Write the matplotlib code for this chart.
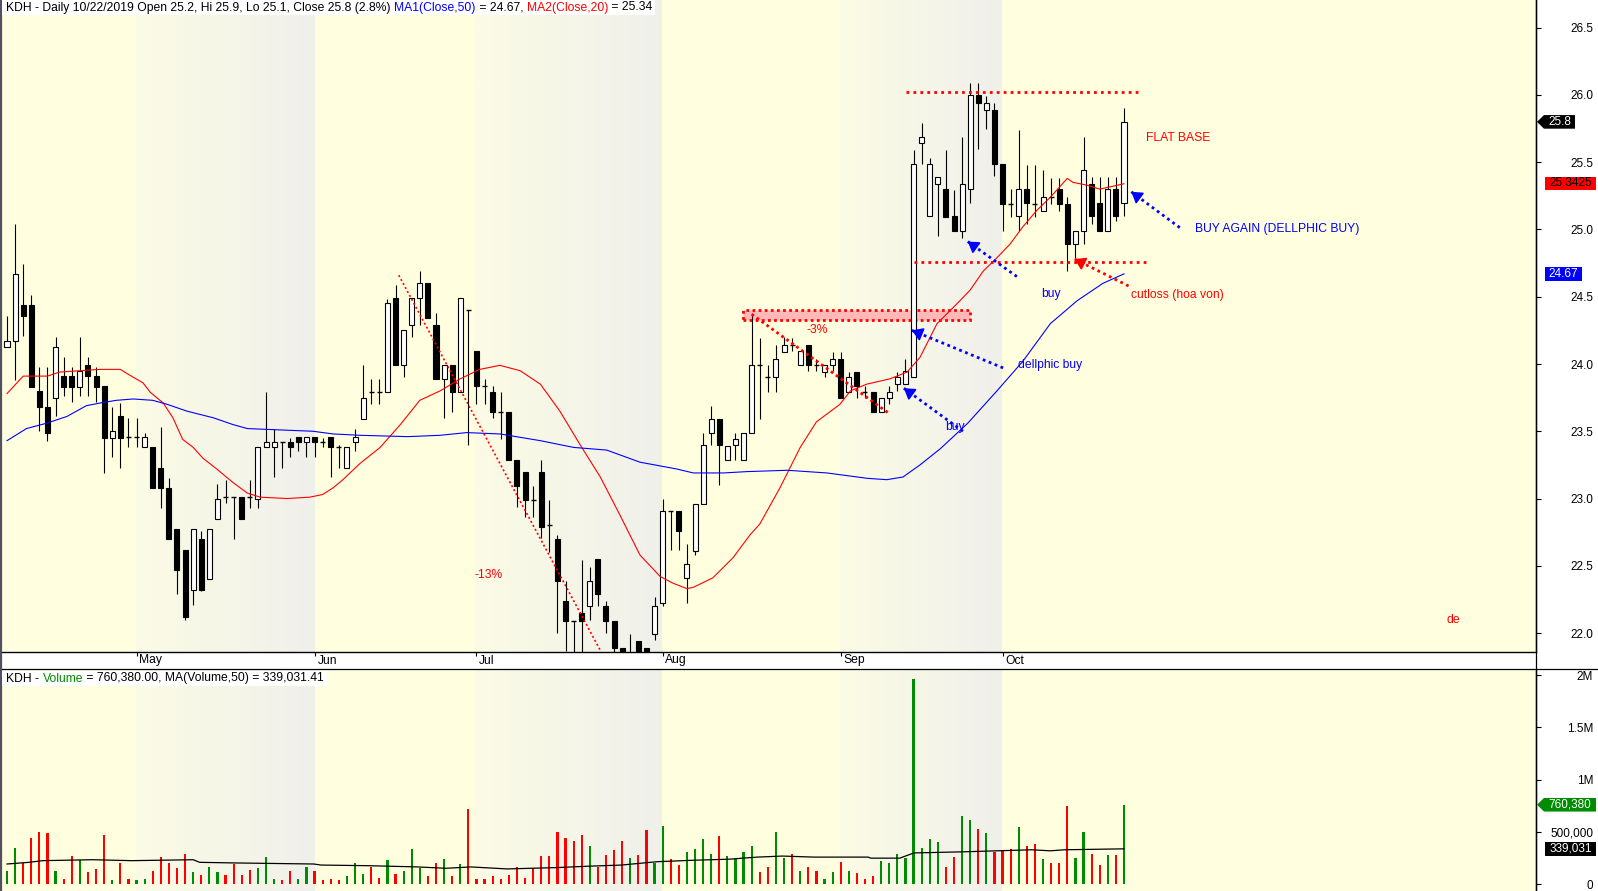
import matplotlib
matplotlib.use('Agg')
import matplotlib.pyplot as plt
import numpy as np
from matplotlib.patches import Rectangle, Polygon
from matplotlib.lines import Line2D
from matplotlib.transforms import blended_transform_factory as blend

plt.rcParams['font.family'] = ['Liberation Sans', 'DejaVu Sans']

W, H, DPI = 1598, 891, 100

# ---------------- data ----------------
opens = [24.13, 24.17, 24.44, 24.44, 23.80, 23.68, 23.75, 23.91, 23.91, 23.83,
         23.99, 23.91, 23.84, 23.45, 23.61, 23.46, 23.46, 23.38, 23.38, 23.23,
         23.08, 22.77, 22.62, 22.32, 22.70, 22.40, 22.85, 23.01, 23.01, 23.01,
         23.01, 23.00, 23.38, 23.38, 23.42, 23.42, 23.46, 23.42, 23.46, 23.42,
         23.46, 23.38, 23.23, 23.42, 23.59, 23.79, 23.79, 23.79, 24.49, 23.99,
         24.29, 24.49, 24.60, 24.29, 23.89, 23.99, 23.79, 24.40, 24.10, 23.84,
         23.79, 23.64, 23.64, 23.29, 23.20, 22.99, 23.20, 22.80, 22.70, 22.24,
         22.09, 22.15, 22.20, 22.55, 22.20, 22.09, 21.89, 21.85, 21.94, 21.89,
         21.99, 22.22, 22.91, 22.91, 22.41, 22.61, 22.96, 23.49, 23.59, 23.29,
         23.40, 23.29, 23.49, 23.99, 23.90, 23.90, 24.09, 24.14, 23.99, 24.14,
         23.99, 23.94, 23.99, 24.04, 23.79, 23.94, 23.79, 23.79, 23.64, 23.75,
         23.85, 23.85, 23.90, 25.64, 25.10, 25.34, 25.30, 25.10, 24.99, 25.30,
         26.00, 25.89, 25.89, 25.49, 25.19, 25.10, 25.30, 25.19, 25.14, 25.24,
         25.30, 25.19, 24.89, 24.99, 25.34, 25.20, 24.99, 25.30, 25.20]
highs = [24.36, 25.04, 24.74, 24.51, 23.98, 23.98, 24.20, 24.05, 23.98, 24.20,
         24.05, 23.98, 23.84, 23.68, 23.71, 23.60, 23.60, 23.49, 23.38, 23.53,
         23.15, 22.77, 22.62, 22.77, 22.76, 22.77, 23.11, 23.14, 23.01, 23.01,
         23.14, 23.38, 23.79, 23.52, 23.42, 23.45, 23.46, 23.46, 23.46, 23.45,
         23.46, 23.40, 23.38, 23.52, 23.99, 23.89, 23.89, 24.48, 24.59, 24.25,
         24.49, 24.69, 24.60, 24.38, 23.99, 23.99, 24.49, 24.40, 24.10, 23.89,
         23.84, 23.79, 23.64, 23.29, 23.20, 23.09, 23.29, 22.99, 22.73, 22.39,
         22.09, 22.54, 22.49, 22.55, 22.24, 22.09, 21.89, 21.99, 21.94, 21.89,
         22.27, 23.00, 22.91, 22.91, 22.66, 22.96, 23.49, 23.69, 23.59, 23.39,
         23.49, 23.49, 24.37, 24.19, 23.99, 24.14, 24.20, 24.19, 24.10, 24.14,
         24.04, 23.99, 24.09, 24.09, 23.94, 23.94, 23.84, 23.79, 23.75, 23.84,
         23.94, 24.04, 25.59, 25.79, 25.53, 25.39, 25.59, 25.29, 25.69, 26.09,
         26.09, 25.99, 25.94, 25.49, 25.30, 25.74, 25.48, 25.48, 25.44, 25.38,
         25.38, 25.24, 24.99, 25.69, 25.39, 25.39, 25.39, 25.39, 25.90]
lows = [24.13, 23.88, 24.21, 23.83, 23.50, 23.43, 23.61, 23.76, 23.72, 23.76,
        23.76, 23.72, 23.19, 23.31, 23.23, 23.38, 23.38, 23.38, 23.08, 22.93,
        22.70, 22.29, 22.10, 22.21, 22.31, 22.40, 22.85, 22.97, 22.70, 22.85,
        22.93, 22.93, 23.38, 23.16, 23.23, 23.31, 23.35, 23.31, 23.31, 23.38,
        23.16, 23.23, 23.23, 23.35, 23.59, 23.70, 23.70, 23.79, 23.99, 23.90,
        24.20, 24.29, 24.34, 23.89, 23.60, 23.64, 23.79, 23.40, 23.70, 23.70,
        23.60, 23.44, 23.29, 22.94, 22.86, 22.86, 22.71, 22.60, 22.00, 21.87,
        21.85, 21.86, 22.10, 22.20, 22.00, 21.85, 21.75, 21.75, 21.80, 21.80,
        21.95, 22.20, 22.62, 22.62, 22.22, 22.58, 22.96, 23.40, 23.10, 23.29,
        23.29, 23.29, 23.49, 23.59, 23.79, 23.79, 24.09, 24.10, 23.99, 23.95,
        23.95, 23.90, 23.95, 23.75, 23.79, 23.75, 23.75, 23.64, 23.64, 23.70,
        23.80, 23.85, 23.90, 25.49, 25.10, 24.95, 25.09, 24.99, 24.94, 25.20,
        25.60, 25.75, 25.40, 24.99, 25.09, 24.99, 25.04, 25.09, 25.14, 25.19,
        25.14, 24.69, 24.79, 24.89, 25.04, 24.99, 24.99, 25.06, 25.10]
closes = [24.17, 24.67, 24.36, 23.83, 23.68, 23.49, 24.13, 23.83, 23.83, 23.95,
          23.91, 23.83, 23.45, 23.50, 23.45, 23.46, 23.46, 23.46, 23.08, 23.08,
          22.70, 22.47, 22.12, 22.77, 22.32, 22.77, 23.00, 23.01, 23.01, 22.85,
          23.01, 23.38, 23.42, 23.42, 23.42, 23.38, 23.42, 23.46, 23.42, 23.42,
          23.38, 23.38, 23.38, 23.46, 23.75, 23.79, 23.79, 24.45, 23.99, 24.25,
          24.49, 24.60, 24.34, 23.89, 23.99, 23.79, 24.49, 24.40, 23.84, 23.84,
          23.64, 23.64, 23.29, 23.09, 22.99, 22.99, 22.79, 22.80, 22.39, 22.09,
          22.09, 22.09, 22.39, 22.29, 22.09, 21.89, 21.80, 21.85, 21.84, 21.82,
          22.20, 22.91, 22.91, 22.76, 22.51, 22.96, 23.40, 23.59, 23.40, 23.39,
          23.44, 23.49, 23.99, 23.99, 23.90, 24.04, 24.14, 24.14, 24.10, 23.99,
          23.99, 23.99, 24.04, 23.75, 23.90, 23.84, 23.79, 23.64, 23.75, 23.79,
          23.90, 23.95, 25.49, 25.69, 25.49, 25.39, 25.09, 24.99, 25.34, 26.00,
          25.94, 25.94, 25.49, 25.19, 25.19, 25.30, 25.20, 25.19, 25.24, 25.24,
          25.19, 24.89, 24.99, 25.44, 25.10, 24.99, 25.30, 25.10, 25.80]

volumes_m = [0.13, 0.35, 0.20, 0.44, 0.50, 0.49, 0.13, 0.05, 0.27, 0.23,
             0.12, 0.15, 0.47, 0.04, 0.20, 0.05, 0.04, 0.05, 0.13, 0.26,
             0.20, 0.16, 0.29, 0.12, 0.09, 0.17, 0.12, 0.09, 0.19, 0.09,
             0.14, 0.16, 0.26, 0.05, 0.04, 0.13, 0.05, 0.17, 0.13, 0.04,
             0.05, 0.04, 0.08, 0.20, 0.10, 0.17, 0.06, 0.23, 0.10, 0.13,
             0.34, 0.16, 0.08, 0.20, 0.24, 0.08, 0.19, 0.72, 0.05, 0.05,
             0.08, 0.05, 0.09, 0.17, 0.06, 0.16, 0.27, 0.27, 0.50, 0.44,
             0.41, 0.47, 0.37, 0.17, 0.28, 0.33, 0.41, 0.25, 0.28, 0.52,
             0.20, 0.56, 0.24, 0.18, 0.31, 0.34, 0.43, 0.29, 0.46, 0.27,
             0.24, 0.31, 0.37, 0.12, 0.17, 0.50, 0.25, 0.29, 0.13, 0.17,
             0.13, 0.05, 0.12, 0.21, 0.13, 0.11, 0.05, 0.08, 0.22, 0.20,
             0.29, 0.25, 1.96, 0.35, 0.43, 0.40, 0.17, 0.26, 0.65, 0.61,
             0.53, 0.49, 0.31, 0.32, 0.34, 0.55, 0.37, 0.39, 0.24, 0.20,
             0.20, 0.75, 0.25, 0.50, 0.29, 0.18, 0.28, 0.28, 0.76038]
vol_dir = list("GGRRRRGRRG" "RRRGRRGGRR" "RRRGRGGRRR" "RGGGRRGGRR" "RRGGGRRGRG"
               "GGRRGRGRRR" "RRRRRRRRRR" "RRGRRRRGRR" "GGRRGGGGRG" "GGGRRGGRGR"
               "RGGRGRRRGG" "GGGGGGRRGG" "RGRRRGRRGR" "RRGGRRGRG")

ma20_x = [0, 2, 5, 6.5, 11.5, 14, 14.8, 16.8, 17.7, 19.3, 20.5, 21.7, 23, 24.2, 25.9,
          27.9, 29.7, 31.3, 34.6, 37.4, 39, 40.3, 41.5, 43.6, 46.1, 48.6, 51, 53.5,
          56, 58.4, 60.9, 63.4, 65.9, 68.3, 70.8, 73.3, 75.7, 78.2, 80.7, 82.3, 84,
          84.8, 87.2, 89.7, 91.8, 93, 95.5, 98, 100, 102.9, 104.2, 106.2, 109.1,
          111.2, 112.8, 114.9, 117.4, 119, 120.6, 122.3, 123.9, 125.5, 127.2, 128.9,
          131, 131.7, 133.4, 135, 136.5, 138]
ma20_v = [23.78, 23.91, 23.91, 23.94, 23.96, 23.96, 23.93, 23.86, 23.79, 23.71, 23.60,
          23.44, 23.38, 23.30, 23.22, 23.12, 23.04, 23.01, 23.00, 23.01, 23.03, 23.08,
          23.14, 23.26, 23.38, 23.55, 23.73, 23.80, 23.89, 23.96, 23.99, 23.95, 23.85,
          23.65, 23.40, 23.16, 22.88, 22.58, 22.42, 22.37, 22.33, 22.34, 22.41, 22.56,
          22.73, 22.81, 23.08, 23.38, 23.57, 23.70, 23.80, 23.85, 23.89, 23.94, 24.05,
          24.30, 24.45, 24.55, 24.69, 24.79, 24.89, 25.02, 25.14, 25.24, 25.38, 25.35,
          25.33, 25.30, 25.32, 25.34]
ma50_x = [0, 2.4, 4.9, 7.4, 9.8, 11.5, 13.5, 15.6, 18, 19.8, 22.2, 25.5, 27.9, 29.7,
          33.7, 37.8, 40.3, 43.6, 49.5, 53.5, 56.8, 60.9, 65.9, 70, 74.1, 78.2, 82.7,
          84.8, 88.5, 91.4, 96.4, 101.3, 106.3, 108.7, 110.7, 112.8, 115.3, 118.7,
          122.3, 125.5, 128.9, 132.2, 135.4, 138]
ma50_v = [23.43, 23.52, 23.56, 23.61, 23.69, 23.71, 23.73, 23.74, 23.73, 23.70, 23.65,
          23.60, 23.55, 23.52, 23.51, 23.50, 23.48, 23.47, 23.46, 23.47, 23.49, 23.48,
          23.43, 23.38, 23.36, 23.27, 23.22, 23.19, 23.19, 23.20, 23.21, 23.19, 23.15,
          23.14, 23.16, 23.25, 23.37, 23.56, 23.80, 24.02, 24.30, 24.47, 24.60, 24.67]
volma_x = [0, 2.7, 4.4, 10.6, 15.4, 23, 23.8, 28.3, 37.9, 38.8, 44.6, 47.7, 50.8, 54.2,
           57.3, 61.8, 68, 71.5, 75.9, 80.3, 84.8, 89.2, 92.7, 95.8, 99.7, 106.4, 106.7,
           110.3, 111.7, 112.1, 117.9, 122.2, 126.6, 128.9, 130.6, 138]
volma_v = [0.194, 0.21, 0.226, 0.235, 0.226, 0.235, 0.21, 0.204, 0.194, 0.184, 0.178,
           0.172, 0.166, 0.153, 0.166, 0.147, 0.16, 0.172, 0.184, 0.216, 0.23, 0.24,
           0.26, 0.27, 0.26, 0.26, 0.25, 0.25, 0.29, 0.30, 0.31, 0.32, 0.33, 0.32, 0.33,
           0.339]

month_labels = ['May', 'Jun', 'Jul', 'Aug', 'Sep', 'Oct']
month_idx = [16, 38, 58, 81, 103, 123]
shaded_months = [(16, 38), (58, 81), (103, 123)]
price_ticks = [22.0, 22.5, 23.0, 23.5, 24.0, 24.5, 25.0, 25.5, 26.0, 26.5]
vol_ticks = [0, 500000, 1000000, 1500000, 2000000]
vol_tick_labels = ['0', '500,000', '1M', '1.5M', '2M']

# ---------------- layout ----------------
fig = plt.figure(figsize=(W / DPI, H / DPI), dpi=DPI, facecolor='white')


def fx(px):
    return px / W


def fy(py):
    return 1 - py / H


PANEL_R = 1536
ax = fig.add_axes([0, fy(652), fx(PANEL_R), 652 / H])
axv = fig.add_axes([0, 0, fx(PANEL_R), (H - 669) / H])

XL = (-0.865, 188.9)
PY = (21.859, 26.706)
VY = (-0.064e6, 2.058e6)
YELLOW = '#FFFFE0'

for a in (ax, axv):
    a.set_facecolor(YELLOW)


def shade(a, ylo, yhi):
    g = np.linspace(0, 1, 64)
    c0 = np.array([251, 251, 229]) / 255
    c1 = np.array([240, 240, 235]) / 255
    img = (c0[None, :] * (1 - g[:, None]) + c1[None, :] * g[:, None])[None, :, :]
    for s, e in shaded_months:
        a.imshow(img, extent=[s - 0.12, e - 0.12, ylo, yhi], aspect='auto',
                 zorder=0, interpolation='bilinear')


shade(ax, PY[0], PY[1])
shade(axv, VY[0], VY[1])

# ---------------- price candles ----------------
n = len(closes)
idx = np.arange(n)
bw = 0.62
ax.vlines(idx, lows, highs, color='black', lw=0.8, zorder=3)
for i in range(n):
    o, c = opens[i], closes[i]
    if c > o:
        ax.add_patch(Rectangle((i - bw / 2, o), bw, c - o, fc='white', ec='black',
                               lw=0.8, zorder=4))
    elif c < o:
        ax.add_patch(Rectangle((i - bw / 2, c), bw, o - c, fc='black', ec='black',
                               lw=0.8, zorder=4))
    else:
        ax.hlines(o, i - bw / 2, i + bw / 2, color='black', lw=1.0, zorder=4)

ax.plot(ma20_x, ma20_v, color='#FF0000', lw=0.8, zorder=5)
ax.plot(ma50_x, ma50_v, color='#0000FF', lw=0.8, zorder=5)

# ---------------- drawings / annotations ----------------
RED, BLUE = '#FF0000', '#0000FF'
ax.plot([48.4, 73.4], [24.66, 21.86], color=RED, lw=1.2, ls=(0, (1.2, 1.5)), zorder=6)
ax.plot([92.0, 108.8], [24.37, 23.64], color=RED, lw=2.0, ls=(0, (1, 1.2)), zorder=6)
ax.add_patch(Rectangle((90.9, 24.33), 119 - 90.9, 0.07, fc='#FFB9B9', ec=RED,
                       lw=2.0, ls=(0, (1, 1.2)), zorder=2))
ax.plot([111.1, 140.0], [26.02, 26.02], color=RED, lw=2.0, ls=(0, (1, 1.5)), zorder=6)
ax.plot([112.0, 141.0], [24.76, 24.76], color=RED, lw=2.0, ls=(0, (1, 1.5)), zorder=6)

ax.set_xlim(*XL)
ax.set_ylim(*PY)
axv.set_xlim(*XL)
axv.set_ylim(*VY)

arrows = [((111.8, 24.25), (123.1, 23.97), BLUE),
          ((110.8, 23.82), (118.1, 23.50), BLUE),
          ((118.7, 24.91), (125.0, 24.64), BLUE),
          ((138.9, 25.28), (145.2, 25.00), BLUE),
          ((131.9, 24.78), (138.9, 24.57), RED)]
for head, tail, col in arrows:
    ax.plot([head[0], tail[0]], [head[1], tail[1]], color=col, lw=2.0,
            ls=(0, (1, 1.3)), zorder=6)
    p0 = ax.transData.transform(head)
    p1 = ax.transData.transform(tail)
    d = (p1 - p0) / np.hypot(*(p1 - p0))
    off = d * 8 * 72 / DPI
    ax.annotate('', xy=head, xytext=(off[0], off[1]), textcoords='offset points',
                arrowprops=dict(arrowstyle='-|>,head_length=0.7,head_width=0.45',
                                color=col, lw=1.2, shrinkA=0, shrinkB=0,
                                mutation_scale=9), zorder=7)

FS = 8.7
notes = [(57.8, 22.43, '-13%', RED), (98.8, 24.25, '-3%', RED),
         (140.7, 25.68, 'FLAT BASE', RED),
         (146.8, 25.00, 'BUY AGAIN (DELLPHIC BUY)', BLUE),
         (127.8, 24.52, 'buy', BLUE), (138.9, 24.51, 'cutloss (hoa von)', RED),
         (124.9, 23.99, 'dellphic buy', BLUE), (115.9, 23.53, 'buy', BLUE),
         (177.9, 22.10, 'de', RED)]
for x, y, s, c in notes:
    ax.text(x, y, s, color=c, fontsize=FS, ha='left', va='center', zorder=8)

# ---------------- volume ----------------
vcols = ['#008C00' if d == 'G' else '#FF0000' for d in vol_dir]
axv.bar(idx, np.array(volumes_m) * 1e6, width=0.27, color=vcols, zorder=3)
axv.plot(volma_x, np.array(volma_v) * 1e6, color='black', lw=0.9, zorder=4)

# ---------------- axes styling ----------------
for a in (ax, axv):
    a.spines['top'].set_visible(False)
    a.spines['left'].set_visible(False)
    a.spines['right'].set_color('black')
    a.spines['right'].set_linewidth(1.0)
ax.spines['bottom'].set_color('black')
ax.spines['bottom'].set_linewidth(1.0)
axv.spines['bottom'].set_visible(False)

ax.set_yticks(price_ticks)
ax.set_yticklabels([f'{t:.1f}' for t in price_ticks])
axv.set_yticks(vol_ticks)
axv.set_yticklabels(vol_tick_labels)
for a in (ax, axv):
    a.yaxis.tick_right()
    a.tick_params(axis='y', direction='out', length=3.6, width=0.8, pad=37.5,
                  labelsize=8.5, colors='black')
    for lab in a.get_yticklabels():
        lab.set_horizontalalignment('right')

ax.set_xticks(month_idx)
ax.tick_params(axis='x', direction='out', length=3, width=0.8, labelbottom=False)
axv.set_xticks([])

tb = blend(ax.transData, fig.transFigure)
for m, lab in zip(month_idx, month_labels):
    fig.text(m + 0.35, fy(660.5), lab, transform=tb, fontsize=FS, ha='left',
             va='center', color='black')

# frame lines
fig.add_artist(Line2D([0, 1], [fy(669), fy(669)], transform=fig.transFigure,
                      color='black', lw=0.9))
fig.add_artist(Line2D([fx(PANEL_R), fx(PANEL_R)], [0, 1], transform=fig.transFigure,
                      color='black', lw=0.9))
fig.add_artist(Line2D([fx(0.8), fx(0.8)], [0, 1], transform=fig.transFigure,
                      color='#505060', lw=1.6))

# ---------------- titles ----------------
renderer = fig.canvas.get_renderer()


def text_width(s):
    t = fig.text(0, 0, s + '.', fontsize=FS)
    t2 = fig.text(0, 0, '.', fontsize=FS)
    w = t.get_window_extent(renderer).width - t2.get_window_extent(renderer).width
    t.remove()
    t2.remove()
    return w


def pieces(x0, yc, parts, bg_top, bg_bot):
    prefix = ''
    for s, c in parts:
        x = x0 + text_width(prefix)
        fig.text(fx(x), fy(yc), s, fontsize=FS, color=c, ha='left', va='center',
                 zorder=6)
        prefix += s
    total = text_width(prefix)
    fig.add_artist(Rectangle((fx(1.6), fy(bg_bot)), fx(x0 + total + 3 - 1.6),
                             (bg_bot - bg_top) / H, transform=fig.transFigure,
                             fc='white', ec='none', zorder=4))


pieces(6.5, 7.5, [('KDH - Daily 10/22/2019 Open 25.2, Hi 25.9, Lo 25.1, Close 25.8 (2.8%) ', 'black'),
                  ('MA1(Close,50)', BLUE), (' = 24.67, ', 'black'),
                  ('MA2(Close,20)', RED), (' = 25.34', 'black')], 0, 14.5)
pieces(6.5, 678.5, [('KDH - ', 'black'), ('Volume', '#008C00'),
                    (' = 760,380.00, MA(Volume,50) = 339,031.41', 'black')], 671, 686)

# ---------------- right-hand value boxes ----------------


def ypix(a, v):
    return H - a.transData.transform((0, v))[1]


def value_box(a, v, s, fc, tc, x0, x1, arrow):
    yc = ypix(a, v)
    hh = 6.8
    if arrow:
        pts = [(x0, yc), (x0 + 7, yc - hh), (x1, yc - hh), (x1, yc + hh), (x0 + 7, yc + hh)]
        xt = (x0 + 7 + x1) / 2
    else:
        pts = [(x0, yc - hh), (x1, yc - hh), (x1, yc + hh), (x0, yc + hh)]
        xt = (x0 + x1) / 2
    fig.add_artist(Polygon([(fx(px), fy(py)) for px, py in pts], closed=True,
                           transform=fig.transFigure, fc=fc, ec='none', zorder=5))
    fig.text(fx(xt), fy(yc), s, fontsize=8.5, color=tc, ha='center', va='center',
             zorder=6)


value_box(ax, closes[-1], '25.8', 'black', 'white', 1537, 1575, True)
value_box(ax, ma20_v[-1] + 0.0025, '25.3425', '#FF0000', 'black', 1545, 1596, False)
value_box(ax, ma50_v[-1], '24.67', '#0000FF', 'white', 1545, 1582, False)
value_box(axv, volumes_m[-1] * 1e6, '760,380', '#008C00', 'white', 1537, 1596, True)
value_box(axv, volma_v[-1] * 1e6 - 1000, '339,031', 'black', 'white', 1545, 1596, False)

fig.savefig('out.png', dpi=DPI, facecolor='white')
